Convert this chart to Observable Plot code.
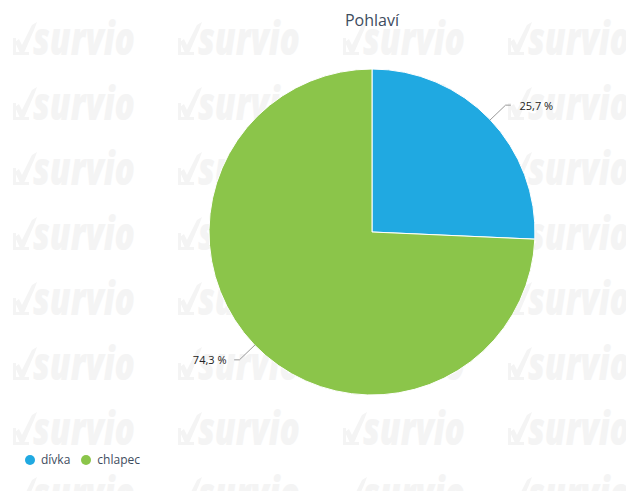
<!DOCTYPE html>
<html><head><meta charset="utf-8">
<script src="https://cdn.jsdelivr.net/npm/d3@7"></script>
<script src="https://cdn.jsdelivr.net/npm/@observablehq/plot@0.6"></script>
<style>
body{margin:0;background:#fff;font-family:"Open Sans",sans-serif;}
#wrap{position:relative;width:626px;height:491px;overflow:hidden;background:#fff;}
#wm{position:absolute;left:0;top:0;}
#title{position:absolute;top:9px;left:0;width:744px;text-align:center;font-size:16px;line-height:22px;color:#3e4c5e;}
#plot{position:absolute;left:0;top:42px;}
#legend{position:absolute;left:25px;top:451px;font-size:12px;line-height:18px;color:#3e4c5e;display:flex;align-items:center;}
#legend .item{display:flex;align-items:center;margin-right:11px;}
#legend .dot{width:10px;height:10px;border-radius:50%;margin-right:6px;}
</style>
</head><body>
<div id="wrap">
  <svg id="wm" width="626" height="491"></svg>
  <div id="title"></div>
  <div id="plot"></div>
  <div id="legend"></div>
</div>
<script>
const chartTitle = "Pohlaví";
const categories = ["dívka", "chlapec"];
const shares = [25.7, 74.3];
const valueLabels = ["25,7 %", "74,3 %"];
const colors = ["#20a9e1", "#8bc54a"];
const watermarkText = "survio";

// watermark background
const wm = d3.select("#wm");
const wmColor = "#f4f4f4";
for (let r = 0; r < 8; r++) {
  for (let c = 0; c < 4; c++) {
    const x0 = 13 + c * 165, yb = 55 + r * 65;
    const g = wm.append("g").attr("transform", `translate(${x0},${yb})`);
    g.append("path").attr("d", "M1.5,-17 L1.5,-1.5 L16,-1.5").attr("fill", "none").attr("stroke", wmColor).attr("stroke-width", 3);
    g.append("path").attr("d", "M2,-13 L6,-16 L9,-10 L19,-30 L24,-33 L21,-25 L11,-2 L7,-2 Z").attr("fill", wmColor);
    g.append("text").attr("x", 20).attr("y", 0).attr("font-family", "Open Sans").attr("font-weight", 800)
      .attr("font-style", "italic").attr("font-size", 46).attr("textLength", 102).attr("lengthAdjust", "spacingAndGlyphs")
      .attr("fill", wmColor).text(watermarkText);
  }
}

document.getElementById("title").textContent = chartTitle;

// pie geometry from data
const pie = d3.pie().sort(null).value(d => d.share)(categories.map((c, i) => ({category: c, share: shares[i], label: valueLabels[i]})));
const slices = pie.map(p => ({...p, category: p.data.category, label: p.data.label}));
const elbowR = 1.13, hook = 0.03;
const connectors = [];
const labels = [];
for (const s of slices) {
  const a = (s.startAngle + s.endAngle) / 2;
  const sx = Math.sin(a), sy = -Math.cos(a);
  const right = sx >= 0;
  const ex = sx * elbowR, ey = sy * elbowR;
  const hx = ex + (right ? hook : -hook);
  connectors.push({category: s.category, x: sx, y: sy}, {category: s.category, x: ex, y: ey}, {category: s.category, x: hx, y: ey});
  labels.push({category: s.category, x: hx, y: ey, text: s.label, right});
}

const R = 163, cx = 372, cy = 190;
const chart = Plot.plot({
  width: 626,
  height: 400,
  margin: 0,
  style: {background: "transparent", overflow: "visible"},
  x: {domain: [-1, 1], range: [cx - R, cx + R], axis: null},
  y: {domain: [-1, 1], range: [cy - R, cy + R], axis: null},
  color: {domain: categories, range: colors},
  marks: [
    Plot.dot(slices, {
      x: () => 0, y: () => 0, fill: "category",
      render: (index, scales, values) => {
        const g = d3.create("svg:g");
        const ox = scales.x(0), oy = scales.y(0), rr = scales.x(1) - scales.x(0);
        const arc = d3.arc().innerRadius(0).outerRadius(rr);
        for (const i of index) {
          g.append("path").attr("d", arc(slices[i])).attr("transform", `translate(${ox},${oy})`)
            .attr("fill", values.fill[i]).attr("stroke", "#fff").attr("stroke-width", 1).attr("stroke-linejoin", "round");
        }
        return g.node();
      }
    }),
    Plot.line(connectors, {x: "x", y: "y", z: "category", stroke: "#999", strokeWidth: 1}),
    Plot.text(labels.filter(d => d.right), {x: "x", y: "y", text: "text", textAnchor: "start", dx: 9, dy: 1, fontSize: 11, fill: "#222", fontFamily: "Open Sans"}),
    Plot.text(labels.filter(d => !d.right), {x: "x", y: "y", text: "text", textAnchor: "end", dx: -8, dy: 1, fontSize: 11, fill: "#222", fontFamily: "Open Sans"})
  ]
});
document.getElementById("plot").appendChild(chart);

const legend = d3.select("#legend");
categories.forEach((c, i) => {
  const it = legend.append("div").attr("class", "item");
  it.append("div").attr("class", "dot").style("background", colors[i]);
  it.append("span").text(c);
});
</script>
</body></html>
